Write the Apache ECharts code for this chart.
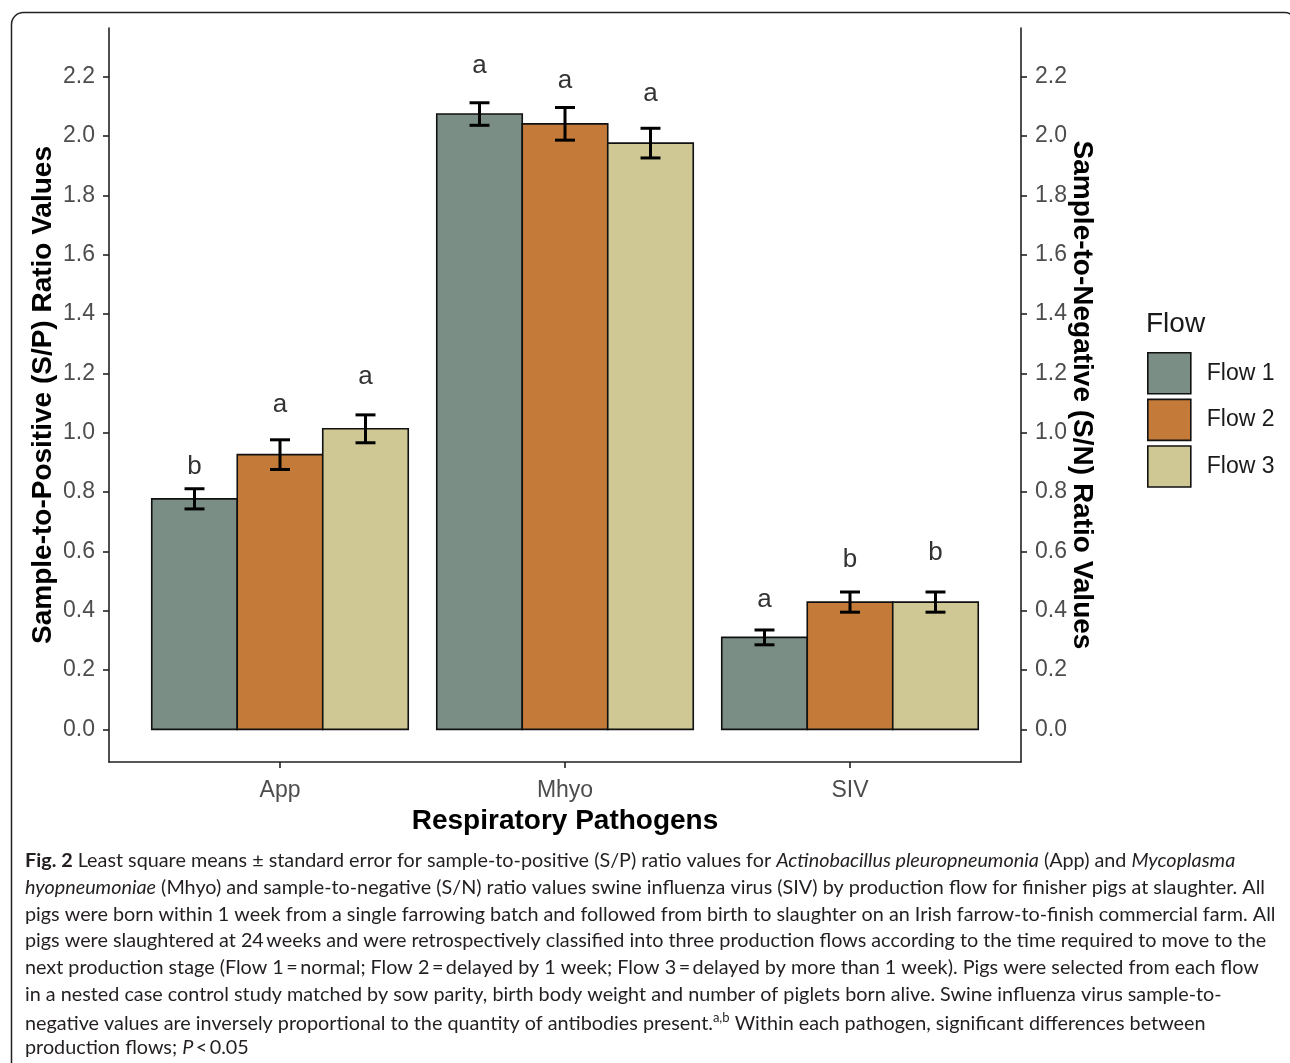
<!DOCTYPE html>
<html><head><meta charset="utf-8">
<script src="https://cdn.jsdelivr.net/npm/echarts@6/dist/echarts.min.js"></script>
<style>html,body{margin:0;padding:0;background:#fff}#c{width:1290px;height:1063px}</style>
</head><body><div id="c"></div>
<script>
// ---- data ----
const categories = ['App', 'Mhyo', 'SIV'];
const flowNames = ['Flow 1', 'Flow 2', 'Flow 3'];
const flow1Mean = [0.777, 2.074, 0.310];
const flow2Mean = [0.926, 2.041, 0.429];
const flow3Mean = [1.013, 1.976, 0.429];
const flow1SE = [0.034, 0.038, 0.025];
const flow2SE = [0.050, 0.055, 0.034];
const flow3SE = [0.047, 0.050, 0.034];
const flow1Letters = ['b', 'a', 'a'];
const flow2Letters = ['a', 'a', 'b'];
const flow3Letters = ['a', 'a', 'b'];
const flow1LetterY = [0.886, 2.236, 0.437];
const flow2LetterY = [1.095, 2.185, 0.572];
const flow3LetterY = [1.189, 2.141, 0.594];
const yTicks = [0.0, 0.2, 0.4, 0.6, 0.8, 1.0, 1.2, 1.4, 1.6, 1.8, 2.0, 2.2];
const xTicks = [1, 2, 3];

const colors = ['#7a8e85', '#c47b39', '#cfc894'];
const means = [flow1Mean, flow2Mean, flow3Mean];
const ses = [flow1SE, flow2SE, flow3SE];
const letters = [flow1Letters, flow2Letters, flow3Letters];
const letterYs = [flow1LetterY, flow2LetterY, flow3LetterY];

const FONT = 'Liberation Sans, Arial, sans-serif';
const CAPFONT = 'Lato, sans-serif';

const chart = echarts.init(document.getElementById('c'), null, {renderer: 'canvas'});

function makeRender(k) {
  return function (params, api) {
    const cx = api.value(0) + (k - 1) * 0.3;
    const m = api.value(1), se = api.value(2), ly = api.value(3);
    const tl = api.coord([cx - 0.15, m]);
    const br = api.coord([cx + 0.15, 0]);
    const et = api.coord([cx, m + se]);
    const eb = api.coord([cx, m - se]);
    const cl = api.coord([cx - 0.035, 0])[0];
    const cr = api.coord([cx + 0.035, 0])[0];
    const lp = api.coord([cx, ly]);
    const ls = {stroke: '#000', lineWidth: 3};
    return {
      type: 'group',
      children: [
        {type: 'rect', shape: {x: tl[0], y: tl[1], width: br[0] - tl[0], height: br[1] - tl[1]},
         style: {fill: colors[k], stroke: '#111', lineWidth: 1.6}},
        {type: 'line', shape: {x1: et[0], y1: et[1], x2: eb[0], y2: eb[1]}, style: ls},
        {type: 'line', shape: {x1: cl, y1: et[1], x2: cr, y2: et[1]}, style: ls},
        {type: 'line', shape: {x1: cl, y1: eb[1], x2: cr, y2: eb[1]}, style: ls},
        {type: 'text', x: lp[0], y: lp[1],
         style: {text: letters[k][params.dataIndex], fill: '#333', font: '26px ' + FONT,
                 align: 'center', verticalAlign: 'middle'}}
      ]
    };
  };
}

const series = flowNames.map((name, k) => ({
  type: 'custom',
  name: name,
  xAxisIndex: 0,
  yAxisIndex: 0,
  itemStyle: {color: colors[k], borderColor: '#111', borderWidth: 1.6},
  encode: {x: 0, y: 1},
  data: categories.map((c, i) => [i + 1, means[k][i], ses[k][i], letterYs[k][i]]),
  renderItem: makeRender(k),
  silent: true
}));

const axisLineStyle = {color: '#222', width: 1.6};
const tickLabelStyle = {fontSize: 23, color: '#4d4d4d', fontFamily: FONT};
const nameStyle = {fontSize: 28, fontWeight: 'bold', color: '#000', fontFamily: FONT};

function yAxisDef(pos) {
  return {
    type: 'value', position: pos, min: -0.11, max: 2.364,
    axisLine: {show: true, onZero: false, lineStyle: axisLineStyle},
    axisTick: {show: true, length: 6, lineStyle: axisLineStyle, customValues: yTicks},
    axisLabel: Object.assign({margin: 14, customValues: yTicks,
      formatter: v => Number(v).toFixed(1)}, tickLabelStyle),
    splitLine: {show: false},
    name: pos === 'left' ? 'Sample-to-Positive (S/P) Ratio Values' : 'Sample-to-Negative (S/N) Ratio Values',
    nameLocation: 'middle',
    nameRotate: pos === 'left' ? 90 : -90,
    nameGap: pos === 'left' ? 52 : 47,
    nameMoveOverlap: false,
    nameTextStyle: nameStyle
  };
}

const captionLines = [
  [['b', 'Fig. 2'], ['n', ' Least square means \u00b1 standard error for sample-to-positive (S/P) ratio values for '], ['i', 'Actinobacillus pleuropneumonia'], ['n', ' (App) and '], ['i', 'Mycoplasma']],
  [['i', 'hyopneumoniae'], ['n', ' (Mhyo) and sample-to-negative (S/N) ratio values swine influenza virus (SIV) by production flow for finisher pigs at slaughter. All']],
  [['n', 'pigs were born within 1 week from a single farrowing batch and followed from birth to slaughter on an Irish farrow-to-finish commercial farm. All']],
  [['n', 'pigs were slaughtered at 24\u2009weeks and were retrospectively classified into three production flows according to the time required to move to the']],
  [['n', 'next production stage (Flow 1\u2009=\u2009normal; Flow 2\u2009=\u2009delayed by 1 week; Flow 3\u2009=\u2009delayed by more than 1 week). Pigs were selected from each flow']],
  [['n', 'in a nested case control study matched by sow parity, birth body weight and number of piglets born alive. Swine influenza virus sample-to-']],
  [['n', 'negative values are inversely proportional to the quantity of antibodies present.'], ['s', 'a,b'], ['n', ' Within each pathogen, significant differences between']],
  [['n', 'production flows; '], ['i', 'P'], ['n', '\u2009<\u20090.05']]
];
const CAPSIZE = 19.8;
const rich = {
  n: {fontSize: CAPSIZE, fontFamily: CAPFONT, color: '#231f20', lineHeight: 24},
  i: {fontSize: CAPSIZE, fontFamily: CAPFONT, color: '#231f20', fontStyle: 'italic', lineHeight: 24},
  b: {fontSize: CAPSIZE, fontFamily: CAPFONT, color: '#231f20', fontWeight: 'bold', lineHeight: 24},
  s: {fontSize: 13, fontFamily: CAPFONT, color: '#231f20', verticalAlign: 'top', lineHeight: 24}
};
const esc = s => s.replace(/[{}|]/g, '');
const captionGraphics = captionLines.map((line, li) => ({
  type: 'text', left: 25, top: 851 + li * 26.7,
  style: {text: line.map(t => '{' + t[0] + '|' + esc(t[1]) + '}').join(''), rich: rich, fill: '#231f20'},
  silent: true
}));

chart.setOption({
  backgroundColor: '#fff',
  animation: false,
  title: {text: 'Flow', left: 1141, top: 305,
    textStyle: {fontSize: 28, fontWeight: 'normal', color: '#1a1a1a', fontFamily: FONT}},
  legend: {
    orient: 'vertical', left: 1142, top: 347, itemWidth: 43, itemHeight: 41, itemGap: 4,
    icon: 'rect', data: flowNames, selectedMode: false,
    itemStyle: {borderColor: '#111', borderWidth: 1.6},
    textStyle: {fontSize: 23, color: '#1a1a1a', fontFamily: FONT, padding: [0, 0, 0, 11]}
  },
  grid: {left: 109, right: 269, top: 28, height: 734},
  xAxis: {
    type: 'value', min: 0.4, max: 3.6,
    axisLine: {show: true, onZero: false, lineStyle: axisLineStyle},
    axisTick: {show: true, length: 6, lineStyle: axisLineStyle, customValues: xTicks},
    axisLabel: Object.assign({margin: 17, customValues: xTicks,
      formatter: v => categories[Math.round(v) - 1] || ''}, tickLabelStyle),
    splitLine: {show: false},
    name: 'Respiratory Pathogens', nameLocation: 'middle', nameGap: 45,
    nameMoveOverlap: false,
    nameTextStyle: nameStyle
  },
  yAxis: [yAxisDef('left'), yAxisDef('right')],
  series: series,
  graphic: [
    {type: 'rect', left: 9, top: 10, shape: {x: 0, y: 0, width: 1285, height: 1100, r: 12},
     style: {fill: 'none', stroke: '#222', lineWidth: 1.5}, silent: true, z: -1},
    ...captionGraphics
  ]
});
</script></body></html>
